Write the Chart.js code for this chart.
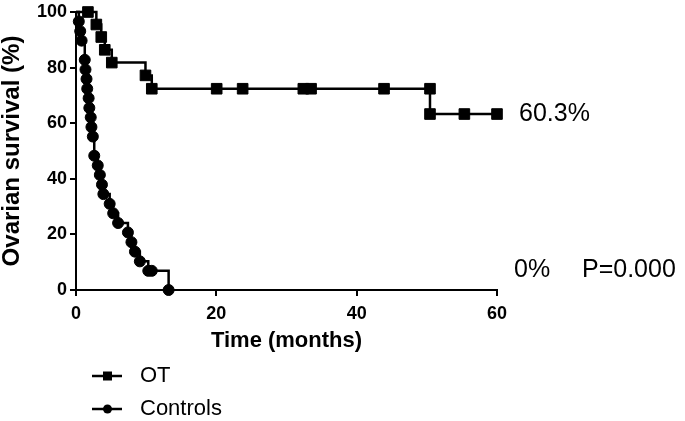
<!DOCTYPE html>
<html>
<head>
<meta charset="utf-8">
<script src="https://cdn.jsdelivr.net/npm/chart.js@4"></script>
<style>
  html, body { margin: 0; padding: 0; background: #fff; }
  #wrap { width: 685px; height: 421px; position: relative; }
</style>
</head>
<body>
<div id="wrap"><canvas id="kmChart"></canvas></div>
<script>
// Kaplan-Meier data
const otTime = [0, 1.7, 2.9, 3.6, 4.1, 5.1, 9.9, 10.8, 20.05, 23.75, 32.4, 33.5, 43.9, 50.45, 50.45, 55.35, 60];
const otSurv = [100, 100, 95.5, 91.0, 86.4, 81.8, 77.2, 72.4, 72.4, 72.4, 72.4, 72.4, 72.4, 72.4, 63.3, 63.3, 63.3];

const ctrlTime = [0, 0.4, 0.6, 0.8, 1.25, 1.35, 1.5, 1.6, 1.8, 1.9, 2.1, 2.2, 2.4, 2.6, 3.1, 3.4, 3.7, 3.9, 4.8, 5.3, 6.0, 7.4, 7.9, 8.4, 9.1, 10.3, 10.8, 13.2];
const ctrlSurv = [100, 96.6, 93.1, 89.7, 82.8, 79.3, 75.9, 72.4, 69.0, 65.5, 62.1, 58.6, 55.2, 48.3, 44.8, 41.4, 37.9, 34.5, 31.0, 27.6, 24.1, 20.7, 17.2, 13.8, 10.3, 6.9, 6.9, 0];

const xTicks = [0, 20, 40, 60];
const yTicks = [0, 20, 40, 60, 80, 100];

const seriesLabels = ["OT", "Controls"];
const endLabels = ["60.3%", "0%"];
const pLabel = "P=0.000";

function toPoints(xs, ys) {
    return xs.map((x, i) => ({ x: x, y: ys[i] }));
}

// legend + end annotations
const annotate = {
    id: "annotate",
    afterDraw(chart) {
        const ctx = chart.ctx;
        const xs = chart.scales.x, ys = chart.scales.y;
        ctx.save();
        ctx.fillStyle = "#000";
        ctx.textBaseline = "middle";
        ctx.textAlign = "left";
        ctx.font = "25px 'Liberation Sans', Arial, sans-serif";
        ctx.fillText(endLabels[0], xs.getPixelForValue(60) + 22, ys.getPixelForValue(63.3));
        ctx.fillText(endLabels[1], 514, ys.getPixelForValue(7));
        ctx.fillText(pLabel, 582, ys.getPixelForValue(7));

        // legend
        const rows = [376, 409];
        chart.data.datasets.forEach((ds, i) => {
            const y = rows[i];
            ctx.strokeStyle = "#000";
            ctx.lineWidth = 2.5;
            ctx.beginPath();
            ctx.moveTo(92, y);
            ctx.lineTo(122, y);
            ctx.stroke();
            ctx.fillStyle = "#000";
            if (ds.pointStyle === "rect") {
                ctx.fillRect(103, y - 4.5, 9, 9);
            } else {
                ctx.beginPath();
                ctx.arc(107.5, y, 4.5, 0, Math.PI * 2);
                ctx.fill();
            }
            ctx.font = "22px 'Liberation Sans', Arial, sans-serif";
            ctx.fillText(ds.label, 140, y);
        });
        ctx.restore();
    }
};

const whiteBg = {
    id: "whiteBg",
    beforeDraw(chart) {
        const ctx = chart.ctx;
        ctx.save();
        ctx.fillStyle = "#fff";
        ctx.fillRect(0, 0, chart.width, chart.height);
        ctx.restore();
    }
};

const ctx = document.getElementById("kmChart").getContext("2d");
new Chart(ctx, {
    type: "line",
    data: {
        datasets: [{
            label: seriesLabels[0],
            data: toPoints(otTime, otSurv),
            stepped: "before",
            borderColor: "#000",
            backgroundColor: "#000",
            borderWidth: 2.5,
            pointStyle: "rect",
            pointRadius: c => c.dataIndex === 0 ? 0 : 7.5,
            pointBorderWidth: 1,
            pointBackgroundColor: "#000",
            pointBorderColor: "#000",
            clip: false
        }, {
            label: seriesLabels[1],
            data: toPoints(ctrlTime, ctrlSurv),
            stepped: "before",
            borderColor: "#000",
            backgroundColor: "#000",
            borderWidth: 2.5,
            pointStyle: "circle",
            pointRadius: c => c.dataIndex === 0 ? 0 : 5.5,
            pointBorderWidth: 1,
            pointBackgroundColor: "#000",
            pointBorderColor: "#000",
            clip: false
        }]
    },
    options: {
        responsive: true,
        maintainAspectRatio: false,
        animation: false,
        layout: { padding: { top: 10, right: 188, bottom: 69, left: 0 } },
        plugins: {
            legend: { display: false },
            tooltip: { enabled: false }
        },
        scales: {
            x: {
                type: "linear",
                min: 0,
                max: 60,
                afterBuildTicks: s => { s.ticks = xTicks.map(v => ({ value: v })); },
                afterFit: s => { s.height = 62; },
                border: { color: "#000", width: 2 },
                grid: { drawOnChartArea: false, drawTicks: true, tickLength: 6, color: "#000", lineWidth: 2 },
                ticks: {
                    color: "#000",
                    padding: 9,
                    font: { family: "'Liberation Sans', Arial, sans-serif", size: 18, weight: "bold", lineHeight: 1 }
                },
                title: {
                    display: true,
                    text: "Time (months)",
                    color: "#000",
                    padding: 0,
                    font: { family: "'Liberation Sans', Arial, sans-serif", size: 22, weight: "bold", lineHeight: 1 }
                }
            },
            y: {
                min: 0,
                max: 100,
                afterBuildTicks: s => { s.ticks = yTicks.map(v => ({ value: v })); },
                afterFit: s => { s.width = 76; },
                border: { color: "#000", width: 2 },
                grid: { drawOnChartArea: false, drawTicks: true, tickLength: 6, color: "#000", lineWidth: 2 },
                ticks: {
                    color: "#000",
                    padding: 3,
                    font: { family: "'Liberation Sans', Arial, sans-serif", size: 18, weight: "bold", lineHeight: 1 }
                },
                title: {
                    display: true,
                    text: "Ovarian survival (%)",
                    color: "#000",
                    padding: 0,
                    font: { family: "'Liberation Sans', Arial, sans-serif", size: 24, weight: "bold", lineHeight: 1 }
                }
            }
        }
    },
    plugins: [whiteBg, annotate]
});
</script>
</body>
</html>
